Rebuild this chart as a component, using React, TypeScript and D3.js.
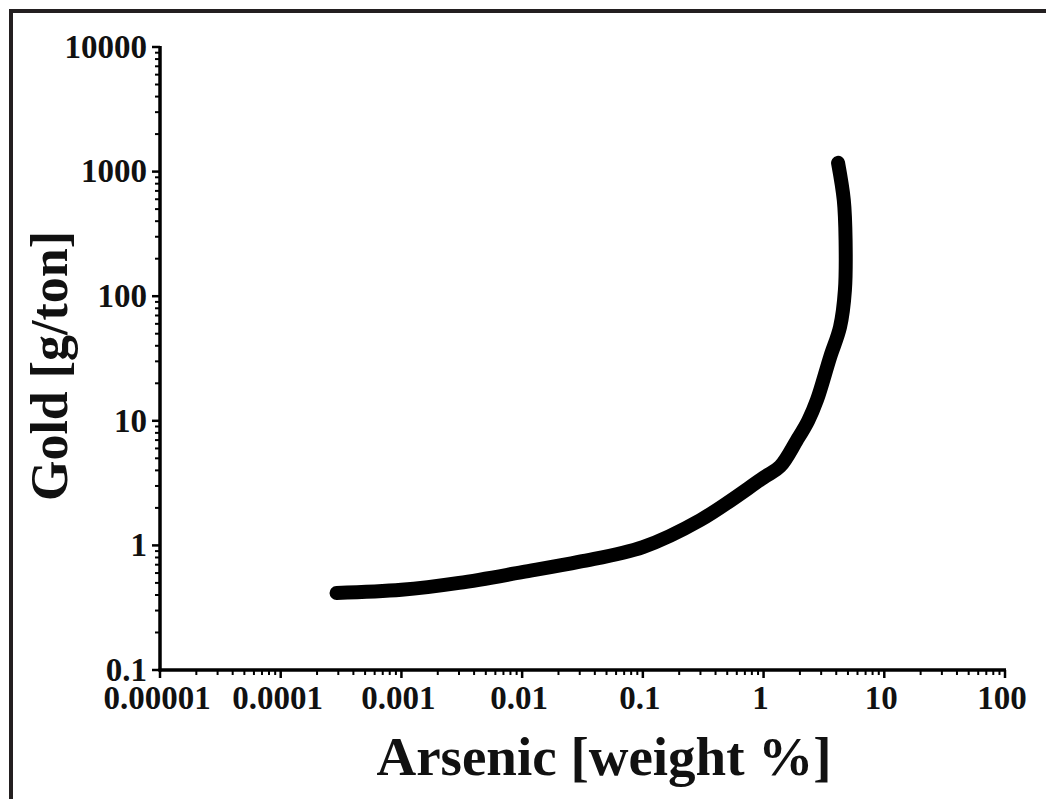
import React from "react";
import * as d3 from "d3";

// Arsenic content (weight %) vs. gold grade (g/ton) along the solubility curve
const arsenicPct = [
  0.00029, 0.001, 0.003, 0.01, 0.03, 0.1, 0.3, 1.0, 1.37, 1.89, 2.34, 2.77, 3.56, 4.3, 4.72, 4.78, 4.62, 4.14,
];
const goldGpt = [
  0.415, 0.44, 0.5, 0.61, 0.74, 0.97, 1.6, 3.5, 4.3, 7.0, 10, 14.7, 32.5, 56.6, 112, 282, 590, 1175,
];

const xTickValues = [0.00001, 0.0001, 0.001, 0.01, 0.1, 1, 10, 100];
const xTickLabels = ["0.00001", "0.0001", "0.001", "0.01", "0.1", "1", "10", "100"];
const yTickValues = [0.1, 1, 10, 100, 1000, 10000];
const yTickLabels = ["0.1", "1", "10", "100", "1000", "10000"];

const xTitle = "Arsenic [weight %]";
const yTitle = "Gold [g/ton]";

const W = 1046;
const H = 799;
const left = 160;
const right = 1005;
const top = 47;
const bottom = 670;
const FONT = "'Liberation Serif', 'Times New Roman', serif";

const isDecade = (v: number) => Math.abs(Math.log10(v) - Math.round(Math.log10(v))) < 1e-6;

export default function App() {
  const x = d3.scaleLog().domain([0.00001, 100]).range([left, right]);
  const y = d3.scaleLog().domain([0.1, 10000]).range([bottom, top]);

  const points: [number, number][] = arsenicPct.map((a, i) => [a, goldGpt[i]]);
  const line = d3
    .line<[number, number]>()
    .x((d) => x(d[0]))
    .y((d) => y(d[1]))
    .curve(d3.curveCatmullRom.alpha(0.5));

  const minorX = x.ticks().filter((v) => !isDecade(v));
  const minorY = y.ticks().filter((v) => !isDecade(v));

  return (
    <svg
      width={W}
      height={H}
      style={{ position: "absolute", left: 0, top: 0, background: "#fff" }}
      fontFamily={FONT}
    >
      {/* frame */}
      <line x1={11} y1={9} x2={11} y2={H} stroke="#231f20" strokeWidth={4} />
      <line x1={9} y1={11} x2={W} y2={11} stroke="#231f20" strokeWidth={4} />

      {/* x axis */}
      {minorX.map((v, i) => (
        <line key={"mx" + i} x1={x(v)} x2={x(v)} y1={bottom} y2={bottom + 5} stroke="#000" strokeWidth={2} />
      ))}
      {xTickValues.map((v, i) => (
        <g key={"x" + i}>
          <line x1={x(v)} x2={x(v)} y1={bottom} y2={bottom + 8} stroke="#000" strokeWidth={2.5} />
          <text x={x(v)} dx={-3} y={709} textAnchor="middle" fontSize={33} fontWeight="bold" fill="#111">
            {xTickLabels[i]}
          </text>
        </g>
      ))}
      <line x1={left - 1.5} x2={right + 1} y1={bottom} y2={bottom} stroke="#000" strokeWidth={3.5} />

      {/* y axis */}
      {minorY.map((v, i) => (
        <line key={"my" + i} x1={left} x2={left - 5} y1={y(v)} y2={y(v)} stroke="#000" strokeWidth={2} />
      ))}
      {yTickValues.map((v, i) => (
        <g key={"y" + i}>
          <line x1={left} x2={left - 8} y1={y(v)} y2={y(v)} stroke="#000" strokeWidth={2.5} />
          <text x={147} y={y(v)} dy="0.33em" textAnchor="end" fontSize={33} fontWeight="bold" fill="#111">
            {yTickLabels[i]}
          </text>
        </g>
      ))}
      <line x1={left} x2={left} y1={top - 1} y2={bottom + 1.5} stroke="#000" strokeWidth={3.5} />

      {/* curve */}
      <path
        d={line(points) ?? ""}
        fill="none"
        stroke="#000"
        strokeWidth={14}
        strokeLinecap="round"
        strokeLinejoin="round"
      />

      {/* axis titles */}
      <text x={604} y={775} textAnchor="middle" fontSize={55} fontWeight="bold" fill="#111">
        {xTitle}
      </text>
      <text
        transform={`translate(67, 366) rotate(-90)`}
        textAnchor="middle"
        fontSize={52}
        fontWeight="bold"
        fill="#111"
      >
        {yTitle}
      </text>
    </svg>
  );
}
